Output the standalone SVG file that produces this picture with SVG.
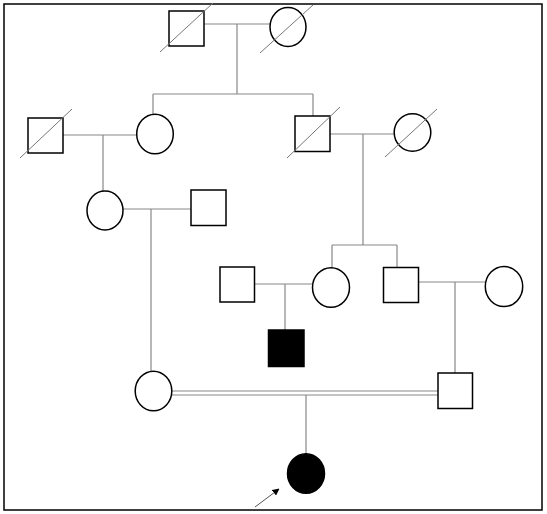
<svg xmlns="http://www.w3.org/2000/svg" width="547" height="514" viewBox="0 0 547 514">
<style>
.sq{fill:#fff;stroke:#000;stroke-width:1.5}
.ci{fill:#fff;stroke:#000;stroke-width:1.5}
.aff{fill:#000;stroke:#000;stroke-width:1.5}
.ln{stroke:#888;stroke-width:1.2;fill:none}
.dx{stroke:#777;stroke-width:1;fill:none}
</style>
<defs>
<marker id="ah" viewBox="0 0 10 10" refX="9" refY="5" markerWidth="7" markerHeight="7" orient="auto" markerUnits="userSpaceOnUse">
<path d="M0,0 L10,5 L0,10 z" fill="#000"/>
</marker>
</defs>
<rect x="4" y="4" width="538" height="506" fill="#fff" stroke="#000" stroke-width="1.5"/>
<g id="connectors">
<path class="ln" d="M204,24 H270 M237,24 V94 M153,94 H313 M153,94 V114 M313,94 V116"/>
<path class="ln" d="M63,135 H137 M103,135 V191"/>
<path class="ln" d="M330,134 H394 M363,134 V245 M332,245 H397 M332,245 V268 M397,245 V267"/>
<path class="ln" d="M123,209 H191 M151,209 V371"/>
<path class="ln" d="M254,284 H312 M285,284 V330"/>
<path class="ln" d="M418,282 H485 M455,282 V373"/>
<path class="ln" d="M172,391 H438 M172,395 H438 M306,395 V453"/>
<line x1="255" y1="507" x2="279" y2="489" stroke="#555" stroke-width="1" marker-end="url(#ah)"/>
</g>
<g id="g1-father"><rect class="sq" x="169" y="11" width="35" height="35"/><line class="dx" x1="160" y1="52" x2="213" y2="3"/></g>
<g id="g1-mother"><ellipse class="ci" cx="288" cy="27" rx="18" ry="19.5"/><line class="dx" x1="260" y1="53" x2="313" y2="5"/></g>
<g id="g2-husband"><rect class="sq" x="28" y="118" width="35" height="35"/><line class="dx" x1="20" y1="158" x2="72" y2="109"/></g>
<g id="g2-daughter"><ellipse class="ci" cx="155" cy="134" rx="18.3" ry="19.8"/></g>
<g id="g2-son"><rect class="sq" x="295" y="116" width="35" height="35.5"/><line class="dx" x1="287" y1="158" x2="340" y2="107"/></g>
<g id="g2-wife"><ellipse class="ci" cx="412.5" cy="132.5" rx="18.3" ry="18.8"/><line class="dx" x1="385" y1="157" x2="437" y2="109"/></g>
<g id="g3-daughter"><ellipse class="ci" cx="105" cy="210.5" rx="18" ry="19.5"/></g>
<g id="g3-husband"><rect class="sq" x="191" y="190" width="35" height="35.5"/></g>
<g id="g3-husband2"><rect class="sq" x="220" y="267" width="34.5" height="35"/></g>
<g id="g3-daughter2"><ellipse class="ci" cx="331" cy="287.5" rx="18.5" ry="19.8"/></g>
<g id="g3-son"><rect class="sq" x="383.5" y="267.5" width="35" height="35"/></g>
<g id="g3-wife"><ellipse class="ci" cx="504" cy="286.5" rx="18.7" ry="20"/></g>
<g id="g4-affected-son"><rect class="aff" x="268.5" y="330" width="35.5" height="36.5"/></g>
<g id="g4-mother"><ellipse class="ci" cx="153.5" cy="391" rx="18.3" ry="19.8"/></g>
<g id="g4-father"><rect class="sq" x="438" y="373" width="34.5" height="35.5"/></g>
<g id="g5-proband"><ellipse class="aff" cx="306" cy="473.5" rx="18.5" ry="19.8"/></g>
</svg>
